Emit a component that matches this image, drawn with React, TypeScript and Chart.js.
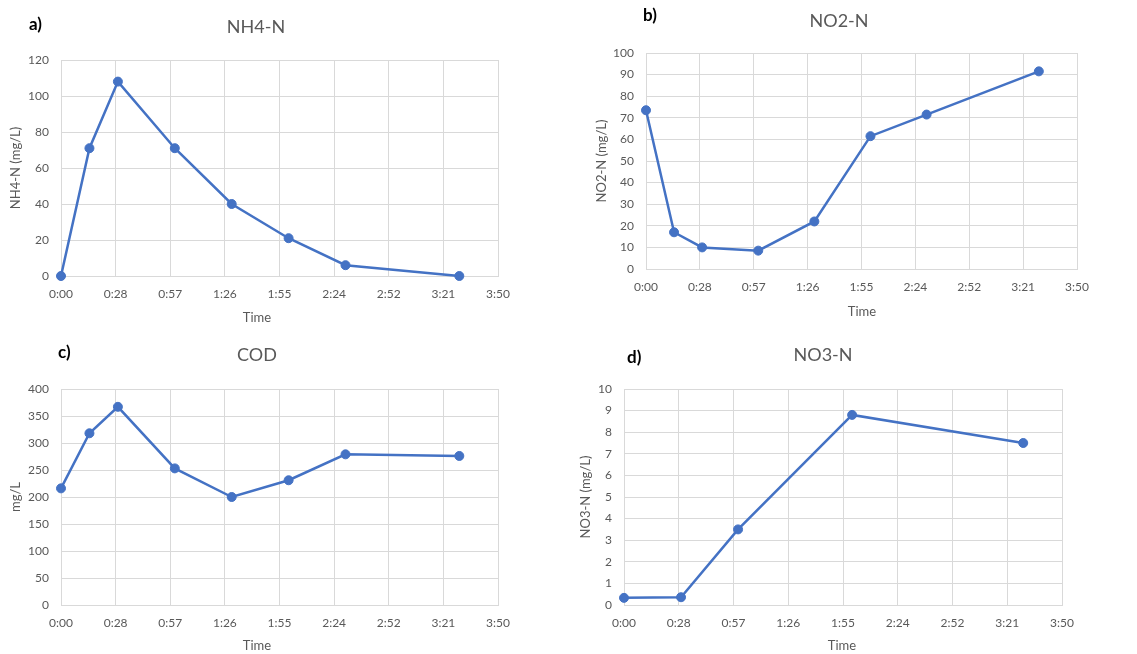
import React, { useEffect, useRef } from 'react';
import { Chart, registerables } from 'chart.js';

Chart.register(...registerables);

// ---- data (time in minutes) ----
const nh4Minutes = [0, 15, 30, 60, 90, 120, 150, 210];
const nh4Values = [0, 71, 108, 71, 40, 21, 6, 0];

const no2Minutes = [0, 15, 30, 60, 90, 120, 150, 210];
const no2Values = [73.5, 17, 10, 8.5, 22, 61.5, 71.5, 91.5];

const codMinutes = [0, 15, 30, 60, 90, 120, 150, 210];
const codValues = [216, 318, 367, 253, 200, 231, 279, 276];

const no3Minutes = [0, 30, 60, 120, 210];
const no3Values = [0.33, 0.36, 3.5, 8.8, 7.5];

const xTickValues = [0, 28.8, 57.6, 86.4, 115.2, 144, 172.8, 201.6, 230.4];
const xTickLabels = ['0:00', '0:28', '0:57', '1:26', '1:55', '2:24', '2:52', '3:21', '3:50'];

const FONT = 'Lato, "Open Sans", sans-serif';
const TEXT = '#595959';
const GRID = '#d9d9d9';
const LINE = '#4472C4';

const panelTextPlugin = {
  id: 'panelText',
  afterDraw(chart: any, _args: any, opts: any) {
    const ctx = chart.ctx;
    ctx.save();
    ctx.textBaseline = 'middle';
    ctx.font = `bold 17px ${FONT}`;
    ctx.fillStyle = '#000';
    ctx.textAlign = 'left';
    ctx.fillText(opts.label, opts.labelX, opts.labelY);
    ctx.font = `18px ${FONT}`;
    ctx.fillStyle = TEXT;
    ctx.textAlign = 'center';
    ctx.fillText(opts.title, opts.titleX, opts.titleY);
    ctx.font = `13px ${FONT}`;
    ctx.fillText(opts.xTitle, opts.xTitleX, opts.xTitleY);
    ctx.restore();
  },
};

type Panel = {
  left: number; top: number; w: number; h: number;
  plotLeft: number; plotRight: number; plotTop: number; plotBottom: number;
  minutes: number[]; values: number[];
  yMax: number; yStep: number; yTitle: string; yTitlePad: number;
  label: string; labelX: number; labelY: number;
  title: string; titleX: number; titleY: number;
  xTitleX: number; xTitleY: number;
};

const panels: Panel[] = [
  {
    left: 0, top: 0, w: 560, h: 330,
    plotLeft: 61, plotRight: 498, plotTop: 60, plotBottom: 276,
    minutes: nh4Minutes, values: nh4Values,
    yMax: 120, yStep: 20, yTitle: 'NH4-N (mg/L)', yTitlePad: 8,
    label: 'a)', labelX: 29, labelY: 25,
    title: 'NH4-N', titleX: 256, titleY: 27,
    xTitleX: 257, xTitleY: 318,
  },
  {
    left: 570, top: 0, w: 567, h: 330,
    plotLeft: 76, plotRight: 507, plotTop: 53, plotBottom: 269,
    minutes: no2Minutes, values: no2Values,
    yMax: 100, yStep: 10, yTitle: 'NO2-N (mg/L)', yTitlePad: 24,
    label: 'b)', labelX: 73, labelY: 16,
    title: 'NO2-N', titleX: 269, titleY: 21,
    xTitleX: 292, xTitleY: 312,
  },
  {
    left: 0, top: 330, w: 560, h: 324,
    plotLeft: 61, plotRight: 498, plotTop: 59, plotBottom: 275,
    minutes: codMinutes, values: codValues,
    yMax: 400, yStep: 50, yTitle: 'mg/L', yTitlePad: 8,
    label: 'c)', labelX: 58, labelY: 23,
    title: 'COD', titleX: 257, titleY: 25,
    xTitleX: 257, xTitleY: 316,
  },
  {
    left: 570, top: 330, w: 567, h: 324,
    plotLeft: 54, plotRight: 492, plotTop: 59, plotBottom: 275,
    minutes: no3Minutes, values: no3Values,
    yMax: 10, yStep: 1, yTitle: 'NO3-N (mg/L)', yTitlePad: 8,
    label: 'd)', labelX: 57, labelY: 28,
    title: 'NO3-N', titleX: 253, titleY: 25,
    xTitleX: 272, xTitleY: 316,
  },
];

function PanelChart({ p }: { p: Panel }) {
  const ref = useRef<HTMLCanvasElement | null>(null);
  useEffect(() => {
    if (!ref.current) return;
    const chart = new Chart(ref.current, {
      type: 'line',
      data: {
        datasets: [
          {
            data: p.minutes.map((m, i) => ({ x: m, y: p.values[i] })),
            borderColor: LINE,
            backgroundColor: LINE,
            borderWidth: 2.5,
            pointRadius: 4.5,
            pointBorderWidth: 1,
            pointBackgroundColor: LINE,
            pointBorderColor: LINE,
            tension: 0,
            clip: false as any,
          },
        ],
      },
      plugins: [panelTextPlugin as any],
      options: {
        responsive: false,
        animation: false,
        layout: { padding: { top: p.plotTop, right: p.w - p.plotRight, bottom: 0, left: 0 } },
        plugins: {
          legend: { display: false },
          tooltip: { enabled: false },
          title: { display: false },
          panelText: {
            label: p.label, labelX: p.labelX, labelY: p.labelY,
            title: p.title, titleX: p.titleX, titleY: p.titleY,
            xTitle: 'Time', xTitleX: p.xTitleX, xTitleY: p.xTitleY,
          },
        } as any,
        scales: {
          x: {
            type: 'linear',
            min: 0,
            max: 230.4,
            afterBuildTicks: (s: any) => {
              s.ticks = xTickValues.map((v) => ({ value: v }));
            },
            afterFit: (s: any) => {
              s.height = p.h - p.plotBottom;
            },
            ticks: {
              autoSkip: false,
              maxRotation: 0,
              padding: 11,
              color: TEXT,
              font: { family: FONT, size: 12 },
              callback: (_v: any, i: number) => xTickLabels[i],
            },
            grid: { color: GRID, lineWidth: 1, drawTicks: false },
            border: { display: true, color: GRID },
            title: { display: false },
          },
          y: {
            type: 'linear',
            min: 0,
            max: p.yMax,
            ticks: {
              stepSize: p.yStep,
              padding: 12,
              color: TEXT,
              font: { family: FONT, size: 12 },
            },
            afterFit: (s: any) => {
              s.width = p.plotLeft;
            },
            grid: { color: GRID, lineWidth: 1, drawTicks: false },
            border: { display: false },
            title: {
              display: true,
              text: p.yTitle,
              color: TEXT,
              font: { family: FONT, size: 13 },
              padding: { top: p.yTitlePad, bottom: 0 },
            },
          },
        },
      },
    });
    return () => chart.destroy();
  }, [p]);
  return (
    <canvas
      ref={ref}
      width={p.w}
      height={p.h}
      style={{ position: 'absolute', left: p.left, top: p.top, width: p.w, height: p.h }}
    />
  );
}

export default function App() {
  return (
    <div
      style={{
        position: 'absolute',
        left: 0,
        top: 0,
        width: 1137,
        height: 654,
        background: '#ffffff',
        overflow: 'hidden',
      }}
    >
      {panels.map((p, i) => (
        <PanelChart key={i} p={p} />
      ))}
    </div>
  );
}
